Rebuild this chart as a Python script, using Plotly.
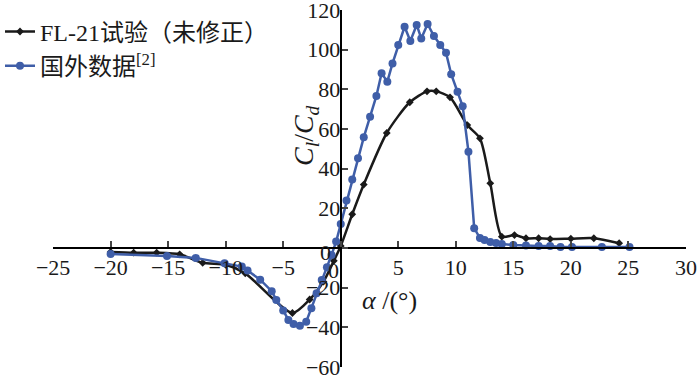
import plotly.graph_objects as go

# Data
fl21_alpha = [-20, -18, -16, -14, -12, -10, -8.3, -4.2, -2.7, -1.5, -0.6, 0, 1, 2, 4, 6, 7.5, 8.3, 9.5, 11, 12.1, 13, 14, 15.1, 16.1, 17.2, 18.2, 20, 22, 24.2]
fl21_ld = [-2, -2.4, -2.4, -3.2, -7.5, -8.5, -12.8, -32.8, -26, -17, -6.5, 1, 17, 32, 58, 73.5, 79, 79, 76, 62, 55.3, 32.6, 5.7, 6.5, 4.9, 4.9, 4.5, 4.7, 4.9, 2.4]

ref_alpha = [-20, -15.1, -12.6, -10.1, -8.6, -8.1, -7.0, -6.0, -5.6, -5.0, -4.55, -4.1, -3.55, -3.0, -2.55, -2.1, -1.65, -1.2, -0.8,
             -0.4, 0, 0.5, 1.0, 1.5, 2.0, 2.55, 3.1, 3.55, 4.05, 4.5, 5.0, 5.55, 6.05, 6.6, 7.0, 7.55, 8.1, 8.65, 9.15, 9.6,
             10.15, 10.6, 11.1, 11.6, 12.1, 12.5, 13.0, 13.5, 14.0, 15.0, 16.1, 17.2, 18.2, 19.1, 20.1, 22.7, 25.1]
ref_ld = [-3, -4, -5, -7.7, -9.4, -11.4, -16, -21.8, -26.2, -31.5, -36.3, -38.3, -39.3, -37.2, -30.4, -22.9, -16.1, -9.7, -3.5,
          3.2, 12.1, 23.9, 34.6, 45.2, 55.8, 66.2, 76.7, 88.1, 83.9, 93.1, 102.4, 111.6, 104.4, 112.5, 105.7, 113, 106.9, 102.4, 98.5, 87.7,
          78.8, 71.5, 48.6, 10, 5, 4, 3, 2.5, 2, 1.5, 1.2, 1, 1, 0.5, 0.5, 0.5, 0.5]

x_ticks = [-25, -20, -15, -10, -5, 0, 5, 10, 15, 20, 25, 30]
x_ticktext = ["−25", "−20", "−15", "−10", "−5", "", "5", "10", "15", "20", "25", "30"]
y_ticks = [-60, -40, -20, 0, 20, 40, 60, 80, 100, 120]
y_ticktext = ["−60", "−40", "−20", "", "20", "40", "60", "80", "100", "120"]

FONT = "Liberation Serif, Noto Sans CJK SC, serif"
BLUE = "#3f5ea8"

fig = go.Figure()
fig.add_trace(go.Scatter(
    x=fl21_alpha, y=fl21_ld, mode="lines+markers", name="FL-21试验（未修正）",
    line=dict(color="#1a1a1a", width=2.5, shape="spline", smoothing=0.7),
    marker=dict(symbol="diamond", size=6, color="#1a1a1a"),
))
fig.add_trace(go.Scatter(
    x=ref_alpha, y=ref_ld, mode="lines+markers", name="国外数据<sup>[2]</sup>",
    line=dict(color=BLUE, width=2.5),
    marker=dict(symbol="circle", size=8, color=BLUE),
))

PLOT_BOTTOM = 367  # pixel of plot-area bottom
PLOT_H = 357
PLOT_LEFT = 53
PLOT_W = 633


def px_x(p):
    return (p - PLOT_LEFT) / PLOT_W


def px_y(p):
    return (PLOT_BOTTOM - p) / PLOT_H


fig.update_layout(
    width=700, height=376,
    margin=dict(l=53, r=14, t=10, b=9, autoexpand=False),
    paper_bgcolor="white", plot_bgcolor="white",
    font=dict(family=FONT, size=22, color="#1a1a1a"),
    showlegend=True,
    legend=dict(xref="container", yref="container", x=0.0, y=0.975, xanchor="left", yanchor="top",
                bgcolor="rgba(0,0,0,0)", font=dict(size=24, family=FONT), tracegroupgap=0,
                itemwidth=30),
    xaxis=dict(range=[-25.01, 30.01], tickvals=x_ticks, ticktext=x_ticktext, ticks="inside", ticklen=6, tickwidth=2,
               showline=True, linecolor="black", linewidth=2, showgrid=False, zeroline=False,
               anchor="free", position=60.05 / 180.1, tickfont=dict(size=22),
               ticklabeloverflow="allow"),
    yaxis=dict(range=[-60.05, 120.05], tickvals=y_ticks, ticktext=y_ticktext, ticks="inside", ticklen=6, tickwidth=2,
               showline=True, linecolor="black", linewidth=2, showgrid=False, zeroline=False,
               anchor="free", position=25.01 / 55.02, tickfont=dict(size=22),
               ticklabeloverflow="allow", ticklabelstandoff=-5),
    annotations=[
        dict(text="0", xref="paper", yref="paper", x=px_x(325), y=px_y(252),
             xanchor="center", yanchor="middle", showarrow=False, font=dict(size=22, family=FONT)),
        dict(text="0", xref="paper", yref="paper", x=px_x(333), y=px_y(270),
             xanchor="center", yanchor="middle", showarrow=False, font=dict(size=22, family=FONT)),
        dict(text="<i>C<sub>l</sub></i>/<i>C<sub>d</sub></i>", xref="paper", yref="paper",
             x=px_x(305), y=px_y(136), xanchor="center", yanchor="middle", textangle=-90, showarrow=False,
             font=dict(size=28, family=FONT)),
        dict(text="<i>α</i> /(°)", xref="paper", yref="paper",
             x=px_x(389), y=px_y(300), xanchor="center", yanchor="middle", showarrow=False,
             font=dict(size=26, family=FONT)),
    ],
)

fig.write_html("out.html", post_script="document.body.style.margin='0';",
               config={"displayModeBar": False})
